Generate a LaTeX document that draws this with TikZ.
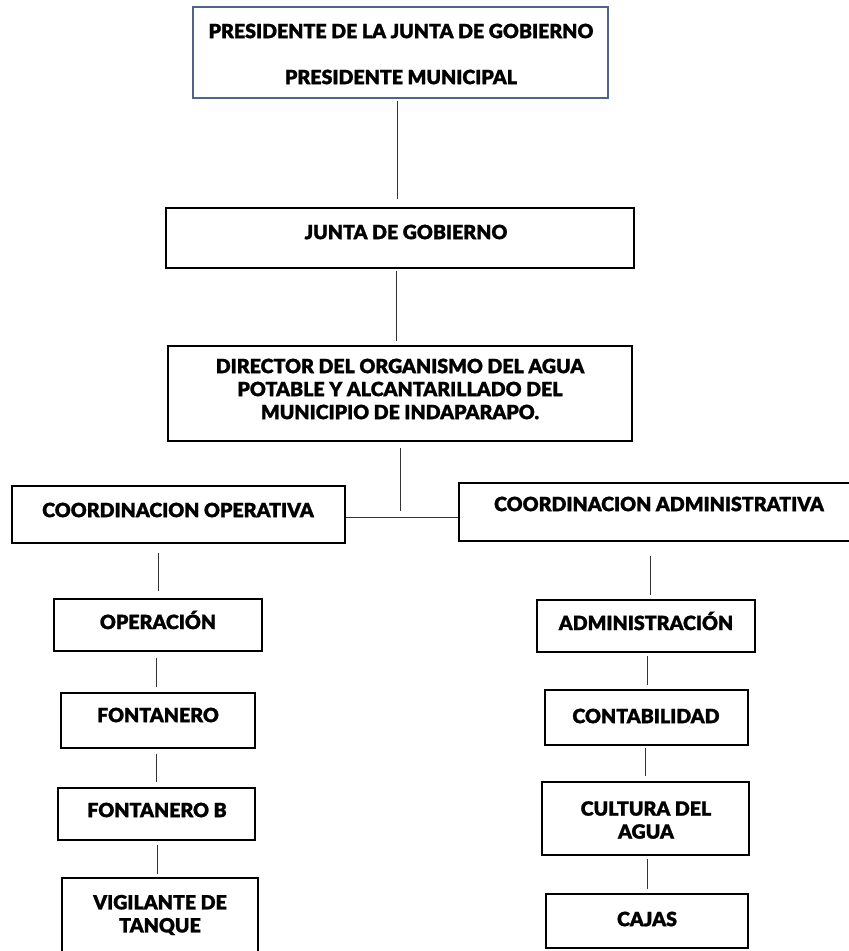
\documentclass[tikz,border=0pt]{standalone}
\usepackage{fontspec}
\newfontfamily\orgfont{Lato Black}[FakeBold=1.2]
\usetikzlibrary{calc}
\definecolor{topborder}{HTML}{4F6587}
\definecolor{linegray}{HTML}{333333}
\tikzset{
  box/.style={draw=black, line width=1.8pt, rectangle, inner sep=0pt},
  topbox/.style={box, draw=topborder},
  lbl/.style={font=\orgfont\fontsize{19.6}{23}\selectfont, align=center, inner sep=0pt, text=black},
  conn/.style={draw=linegray, line width=1pt}
}
\newcommand{\boxat}[6]{% name, x1, y1, x2, y2, style
  \node[#6, minimum width={(#4-#2)*1pt}, minimum height={(#5-#3)*1pt}] (#1) at ({(#2+#4)/2},{(#3+#5)/2}) {};
}
\begin{document}
\begin{tikzpicture}[x=1pt,y=-1pt]
\useasboundingbox (0,0) rectangle (849,951);
% boxes
\boxat{top}{193}{7}{608}{98}{topbox}
\boxat{junta}{166}{208}{634}{268}{box}
\boxat{director}{168}{346}{632}{441}{box}
\boxat{coordop}{12}{486}{345}{543}{box}
\boxat{coordad}{459}{483}{852}{541}{box}
\boxat{operacion}{54}{599}{262}{651}{box}
\boxat{fontanero}{61}{693}{255}{748}{box}
\boxat{fontanerob}{58}{788}{255}{840}{box}
\boxat{vigilante}{62}{878}{258}{956}{box}
\boxat{admin}{537}{600}{755}{652}{box}
\boxat{contab}{545}{690}{748}{745}{box}
\boxat{cultura}{542}{782}{749}{855}{box}
\boxat{cajas}{546}{894}{748}{948}{box}
% labels
\node[lbl] (ttop1) at (401,31) {PRESIDENTE DE LA JUNTA DE GOBIERNO};
\node[lbl] (ttop2) at (401,77) {PRESIDENTE MUNICIPAL};
\node[lbl] (tjunta) at (406,232) {JUNTA DE GOBIERNO};
\node[lbl] (tdirector) at (400,389) {DIRECTOR DEL ORGANISMO DEL AGUA\\POTABLE Y ALCANTARILLADO DEL\\MUNICIPIO DE INDAPARAPO.};
\node[lbl] (tcoordop) at (178,510) {COORDINACION OPERATIVA};
\node[lbl] (tcoordad) at (659,504) {COORDINACION ADMINISTRATIVA};
\node[lbl] (toperacion) at (158,620) {OPERACIÓN};
\node[lbl] (tfontanero) at (158,715) {FONTANERO};
\node[lbl] (tfontanerob) at (157,810) {FONTANERO B};
\node[lbl] (tvigilante) at (160,915) {VIGILANTE DE\\TANQUE};
\node[lbl] (tadmin) at (646,621) {ADMINISTRACIÓN};
\node[lbl] (tcontab) at (646,716) {CONTABILIDAD};
\node[lbl] (tcultura) at (646,820) {CULTURA DEL\\AGUA};
\node[lbl] (tcajas) at (647,919) {CAJAS};
% connectors
\draw[conn] ([shift={(-3.5,2)}]top.south) -- ([shift={(-3,-8)}]junta.north);
\draw[conn] ([shift={(-4,2)}]junta.south) -- ([shift={(-4,-4)}]director.north);
\coordinate (dirend) at ([shift={(0,69)}]director.south);
\draw[conn] ([shift={(0,6)}]director.south) -- (dirend);
\coordinate (hline) at ([shift={(0,2.5)}]coordop.east);
\draw[conn] (hline) -- (coordad.west |- hline);
\draw[conn] ([shift={(-20.5,9)}]coordop.south) -- ([shift={(0,-7)}]operacion.north);
\draw[conn] ([shift={(-2,6)}]operacion.south) -- ([shift={(-2,-5)}]fontanero.north);
\draw[conn] ([shift={(-2,5)}]fontanero.south) -- ([shift={(-0.5,-5)}]fontanerob.north);
\draw[conn] ([shift={(0.5,4)}]fontanerob.south) -- ([shift={(-3,-3)}]vigilante.north);
\draw[conn] ([shift={(-5.5,14)}]coordad.south) -- ([shift={(4,-4)}]admin.north);
\draw[conn] ([shift={(1,3)}]admin.south) -- ([shift={(0.5,-4)}]contab.north);
\draw[conn] ([shift={(-1.5,2)}]contab.south) -- ([shift={(-0.5,-5)}]cultura.north);
\draw[conn] ([shift={(1.5,3)}]cultura.south) -- ([shift={(0,-4)}]cajas.north);
\end{tikzpicture}
\end{document}
